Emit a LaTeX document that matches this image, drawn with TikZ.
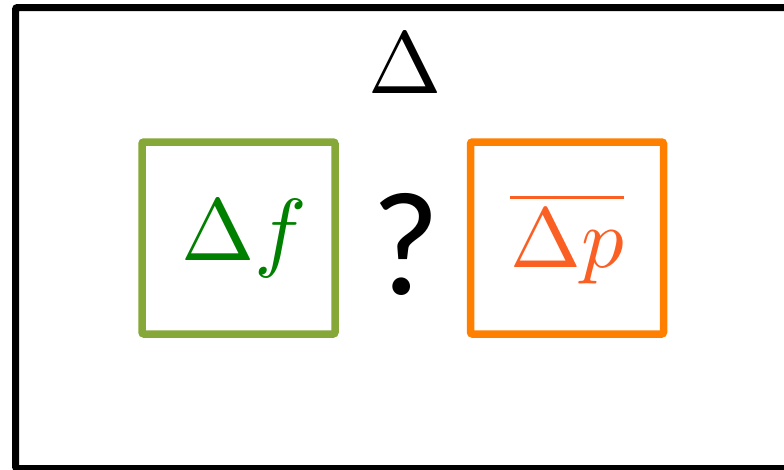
\documentclass[tikz,border=0pt]{standalone}
\usepackage{fontspec}
\newfontfamily\qfont{Carlito}
\definecolor{framegreen}{RGB}{134,168,56}
\definecolor{textgreen}{RGB}{0,128,0}
\definecolor{frameorange}{RGB}{255,128,0}
\definecolor{textorange}{RGB}{250,95,35}
\tikzset{
  outerframe/.style={draw=black, line width=7pt, rounded corners=2pt},
  quantbox/.style={minimum width=193pt, minimum height=192pt, inner sep=0pt, line width=7.5pt, rounded corners=2pt},
  greenbox/.style={quantbox, draw=framegreen, text=textgreen},
  orangebox/.style={quantbox, draw=frameorange, text=textorange},
  plain/.style={inner sep=0pt, text=black}
}
\begin{document}
\begin{tikzpicture}[x=1pt,y=-1pt]
\useasboundingbox (0,0) rectangle (784,469);
\clip (0,0) rectangle (784,469);
\draw[outerframe] (15.5,7.5) rectangle (800,468.5);
\node[plain] (delta) at (405,63) {\scalebox{8.8}{$\Delta$}};
\node[greenbox] (df) at (238.5,238) {\hspace*{12pt}\scalebox{8.8}{$\Delta f$}};
\node[orangebox] (dp) at (567,238) {\scalebox{8.5}{$\overline{\Delta p}$}};
\node[plain, anchor=base] (q) at (405.5,294) {\fontsize{148pt}{150pt}\qfont ?};
\end{tikzpicture}
\end{document}
